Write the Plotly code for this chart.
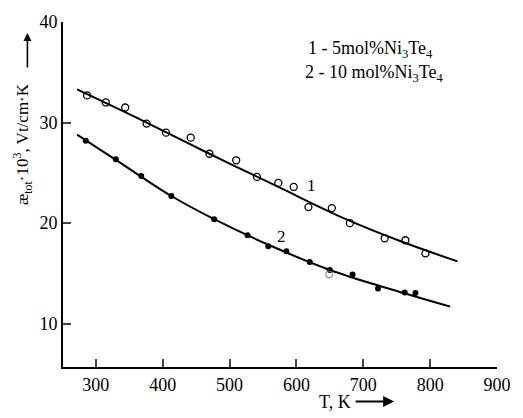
import plotly.graph_objects as go

# Measured thermal conductivity, 5 mol% Ni3Te4 (open circles)
t1 = [287, 315, 344, 376, 405, 442, 470, 510, 541, 573, 596, 618, 653, 680, 732, 763, 793]
k1 = [32.7, 32.0, 31.5, 29.9, 29.0, 28.5, 26.9, 26.25, 24.6, 24.0, 23.6, 21.6, 21.5, 20.0, 18.5, 18.3, 17.0]

# Measured thermal conductivity, 10 mol% Ni3Te4 (filled circles)
t2 = [285, 330, 368, 413, 477, 527, 558, 585, 620, 650, 684, 722, 762, 778]
k2 = [28.2, 26.35, 24.7, 22.7, 20.4, 18.8, 17.7, 17.2, 16.15, 15.35, 14.9, 13.5, 13.1, 13.05]

# Extra hollow point overlapping the 10 mol% curve
t2b = [649]
k2b = [14.9]

# Smoothed fit curves through the data
fit1_t = [272, 370, 470, 570, 674, 760, 841]
fit1_k = [33.3, 30.2, 26.9, 23.7, 20.4, 18.1, 16.2]
fit2_t = [272, 330, 413, 477, 560, 650, 740, 830]
fit2_k = [28.8, 26.3, 22.7, 20.4, 17.8, 15.35, 13.45, 11.7]

x_ticks = [300, 400, 500, 600, 700, 800, 900]
y_ticks = [10, 20, 30, 40]

serif = "Liberation Serif, Times New Roman, serif"

fig = go.Figure()
fig.add_trace(go.Scatter(x=fit1_t, y=fit1_k, mode="lines", line=dict(color="black", width=2, shape="spline"),
                         showlegend=False, hoverinfo="skip"))
fig.add_trace(go.Scatter(x=fit2_t, y=fit2_k, mode="lines", line=dict(color="black", width=2, shape="spline"),
                         showlegend=False, hoverinfo="skip"))
fig.add_trace(go.Scatter(x=t1, y=k1, mode="markers",
                         marker=dict(symbol="circle-open", size=7, color="black", line=dict(width=1.3)),
                         showlegend=False))
fig.add_trace(go.Scatter(x=t2, y=k2, mode="markers",
                         marker=dict(symbol="circle", size=6, color="black"),
                         showlegend=False))
fig.add_trace(go.Scatter(x=t2b, y=k2b, mode="markers",
                         marker=dict(symbol="circle-open", size=7, color="#777777", line=dict(width=1)),
                         showlegend=False))

annotations = [
    # curve numbers
    dict(x=622, y=23.7, text="1", showarrow=False, font=dict(family=serif, size=17, color="black")),
    dict(x=577, y=18.7, text="2", showarrow=False, font=dict(family=serif, size=17, color="black")),
    # composition key
    dict(xref="paper", yref="paper", x=0.56, y=0.92, xanchor="left", yanchor="middle", align="left",
         text="1 - 5mol%Ni<sub>3</sub>Te<sub>4</sub>", showarrow=False,
         font=dict(family=serif, size=18, color="black")),
    dict(xref="paper", yref="paper", x=0.553, y=0.852, xanchor="left", yanchor="middle", align="left",
         text="2 - 10 mol%Ni<sub>3</sub>Te<sub>4</sub>", showarrow=False,
         font=dict(family=serif, size=18, color="black")),
    # x-axis title with arrow
    dict(xref="paper", yref="paper", x=0.668, y=-0.1, xanchor="right", yanchor="middle",
         text="T, K", showarrow=False, font=dict(family=serif, size=18, color="black")),
    dict(xref="paper", yref="paper", x=0.763, y=-0.1, ax=-40, ay=0, text="",
         showarrow=True, arrowhead=2, arrowsize=1, arrowwidth=2.2, arrowcolor="black"),
    # y-axis title with arrow
    dict(xref="paper", yref="paper", x=-0.093, y=0.645, xanchor="center", yanchor="middle", textangle=-90,
         text="æ<sub>tot</sub>·10<sup>3</sup>, Vt/cm·K", showarrow=False,
         font=dict(family=serif, size=17, color="black")),
    dict(xref="paper", yref="paper", x=-0.082, y=0.968, ax=0, ay=36, text="",
         showarrow=True, arrowhead=2, arrowsize=1, arrowwidth=1.6, arrowcolor="black"),
]

fig.update_layout(
    width=523, height=418,
    margin=dict(l=63, r=20, t=16, b=51),
    plot_bgcolor="white", paper_bgcolor="white",
    showlegend=False,
    annotations=annotations,
    font=dict(family=serif, size=18, color="black"),
)
fig.update_xaxes(range=[251, 900], tickvals=x_ticks, ticks="inside", ticklen=8, tickwidth=2,
                 showline=True, linecolor="black", linewidth=2, showgrid=False, zeroline=False,
                 tickfont=dict(family=serif, size=18, color="black"))
fig.update_yaxes(range=[5.7, 40], tickvals=y_ticks, ticks="inside", ticklen=8, tickwidth=2,
                 showline=True, linecolor="black", linewidth=2, showgrid=False, zeroline=False,
                 tickfont=dict(family=serif, size=18, color="black"))

fig.write_html("out.html")
